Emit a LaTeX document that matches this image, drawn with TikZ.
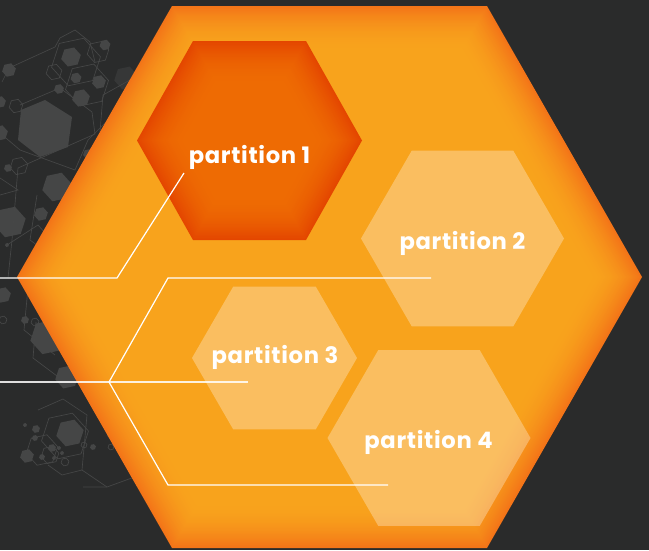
\documentclass[tikz,border=0pt]{standalone}
\usepackage{fontspec}
\setmainfont{Poppins}
\newfontfamily\labelfont[LetterSpace=3]{Poppins}
\definecolor{bgdark}{HTML}{2A2B2B}
\definecolor{decofill}{HTML}{454646}
\definecolor{decoline}{HTML}{464747}
\definecolor{bigedge}{HTML}{F37418}
\definecolor{bigbase}{HTML}{F8A31C}
\definecolor{hotedge}{HTML}{E44600}
\definecolor{hotbase}{HTML}{EE6B03}
\newcommand{\hexpath}[3]{(#1-#3,#2) -- (#1-#3/2,#2-0.866*#3) -- (#1+#3/2,#2-0.866*#3) -- (#1+#3,#2) -- (#1+#3/2,#2+0.866*#3) -- (#1-#3/2,#2+0.866*#3) -- cycle}
\newcommand{\hotpath}[1]{(249.5-112.5*#1,140.5) -- (249.5-56.5*#1,140.5-99.5*#1) -- (249.5+56.5*#1,140.5-99.5*#1) -- (249.5+112.5*#1,140.5) -- (249.5+56.5*#1,140.5+99.5*#1) -- (249.5-56.5*#1,140.5+99.5*#1) -- cycle}
\newcommand{\bigpath}[1]{(329.5-312.5*#1,277) -- (329.5-157.5*#1,277-271*#1) -- (329.5+157.5*#1,277-271*#1) -- (329.5+312.5*#1,277) -- (329.5+157.5*#1,277+271*#1) -- (329.5-157.5*#1,277+271*#1) -- cycle}
\newcommand{\rhex}[4][]{\fill[decofill,#1,rotate around={12:(#2,#3)}] \hexpath{#2}{#3}{#4};}
\newcommand{\ohex}[3]{\draw[decolink,rotate around={12:(#1,#2)}] \hexpath{#1}{#2}{#3};}
\tikzset{
  decolink/.style={draw=decoline,line width=0.5pt},
  leader/.style={draw=white,line width=0.9pt,line join=miter},
  softhex/.style={fill=white,fill opacity=0.3},
  hexlabel/.style={text=white,font=\labelfont\fontsize{17pt}{20pt}\selectfont\bfseries,inner sep=0pt,anchor=base}
}
\begin{document}
\begin{tikzpicture}[x=0.75pt,y=-0.75pt]
\useasboundingbox (0,0) rectangle (649,550);
\fill[bgdark] (0,0) rectangle (649,550);
% background decoration
\fill[decofill] (45,100) -- (72,117) -- (68,147) -- (40,157) -- (18,140) -- (21,110) -- cycle;
\rhex{71}{57}{10}\rhex{9}{70}{7}\rhex{105}{45}{5.5}\rhex{76}{78}{5.5}\rhex{99}{82}{7}
\rhex{59}{89}{5}\rhex{81}{98}{9}\rhex{0}{102}{6}\rhex{0}{133}{8}\rhex{57}{187}{15}
\rhex{10}{222}{16}\rhex{41}{214}{7}\rhex{8}{168}{4}\rhex[opacity=.45]{126}{78}{12}
\rhex{88}{154}{5}\rhex{3}{295}{8}\rhex{25}{320}{4}\rhex{48}{337}{18}\rhex{67}{377}{12}
\rhex{70}{433}{14}\rhex{27}{456}{7}\rhex{36}{429}{4}\rhex{35}{438}{3}\rhex{52}{448}{4}
\rhex{42}{457}{3}\rhex{93}{447}{3}\rhex{25}{425}{2}
\rhex{7}{245}{2}\rhex{59}{448}{2}\rhex{54}{458}{2}\rhex{62}{453}{2}
\ohex{76}{62}{25}\ohex{98}{52}{11}\ohex{54}{72}{8}\ohex{87}{85}{22}\ohex{16}{106}{7}\ohex{19}{166}{9}
\ohex{3}{320}{4}\ohex{35}{322}{4}\ohex{65}{436}{24}\ohex{42}{450}{16}\ohex{50}{455}{9}\ohex{84}{445}{3}\ohex{65}{462}{4}\ohex{111}{447}{3}
\draw[decolink] (2,82) -- (9,68) -- (55,47) -- (60,38) -- (75,30) -- (90,42) -- (95,62);
\draw[decolink] (20,105) -- (60,88) -- (92,112) -- (95,134) -- (18,168) -- (12,240) -- (8,278);
\draw[decolink] (100,132) -- (103,95) -- (130,80);
\draw[decolink] (0,178) -- (18,190) -- (0,195);
\draw[decolink] (0,133) -- (20,150) -- (75,170) -- (88,140) -- (110,118);
\draw[decolink] (37,195) -- (30,240) -- (60,262) -- (78,250);
\draw[decolink] (7,245) -- (38,225) -- (65,255);
\draw[decolink] (28,288) -- (24,330) -- (55,355);
\draw[decolink] (36,322) -- (33,358) -- (65,382);
\draw[decolink] (83,487) -- (107,487) -- (140,475) -- (115,445) -- (107,435);
\draw[decolink] (38,410) -- (63,399) -- (87,415) -- (82,470) -- (62,475) -- (48,465);
\draw[decolink] (82,470) -- (107,487);
% main hexagon with inner glow
\foreach \i in {0,...,40}{
  \pgfmathsetmacro{\sc}{1-0.0042*\i}
  \pgfmathsetmacro{\mixp}{100*(1-\i/40)*(1-\i/40)}
  \fill[bigedge!\mixp!bigbase] \bigpath{\sc};
}
% hot partition with inner glow
\foreach \i in {0,...,40}{
  \pgfmathsetmacro{\sc}{1-0.011*\i}
  \pgfmathsetmacro{\mixp}{100*(1-\i/40)*(1-\i/40)}
  \fill[hotedge!\mixp!hotbase] \hotpath{\sc};
}
% translucent partitions
\fill[softhex] \hexpath{462.5}{238.5}{101.5};
\fill[softhex] \hexpath{274.5}{358}{82.5};
\fill[softhex] \hexpath{429}{438}{101.5};
% leader line anchors
\coordinate (p1in) at (0,278);
\coordinate (p1k) at (117,278);
\coordinate (p1end) at (184,173);
\coordinate (busin) at (0,382);
\coordinate (bus) at (109,382);
\coordinate (p3end) at (248,382);
\coordinate (p2k) at (168,278);
\coordinate (p2end) at (431,278);
\coordinate (p4k) at (168,485);
\coordinate (p4end) at (388,485);
\draw[leader] (p1in) -- (p1k) -- (p1end);
\draw[leader] (p2end) -- (p2k) -- (bus) -- (p4k) -- (p4end);
\draw[leader,draw opacity=.85,line width=1pt] (busin) -- (p3end);
% labels
\node[hexlabel] (part1) at (249.5,163) {partition 1};
\node[hexlabel] (part2) at (462.5,249) {partition 2};
\node[hexlabel] (part3) at (275,363) {partition 3};
\node[hexlabel] (part4) at (428.5,448.5) {partition 4};
\end{tikzpicture}
\end{document}
